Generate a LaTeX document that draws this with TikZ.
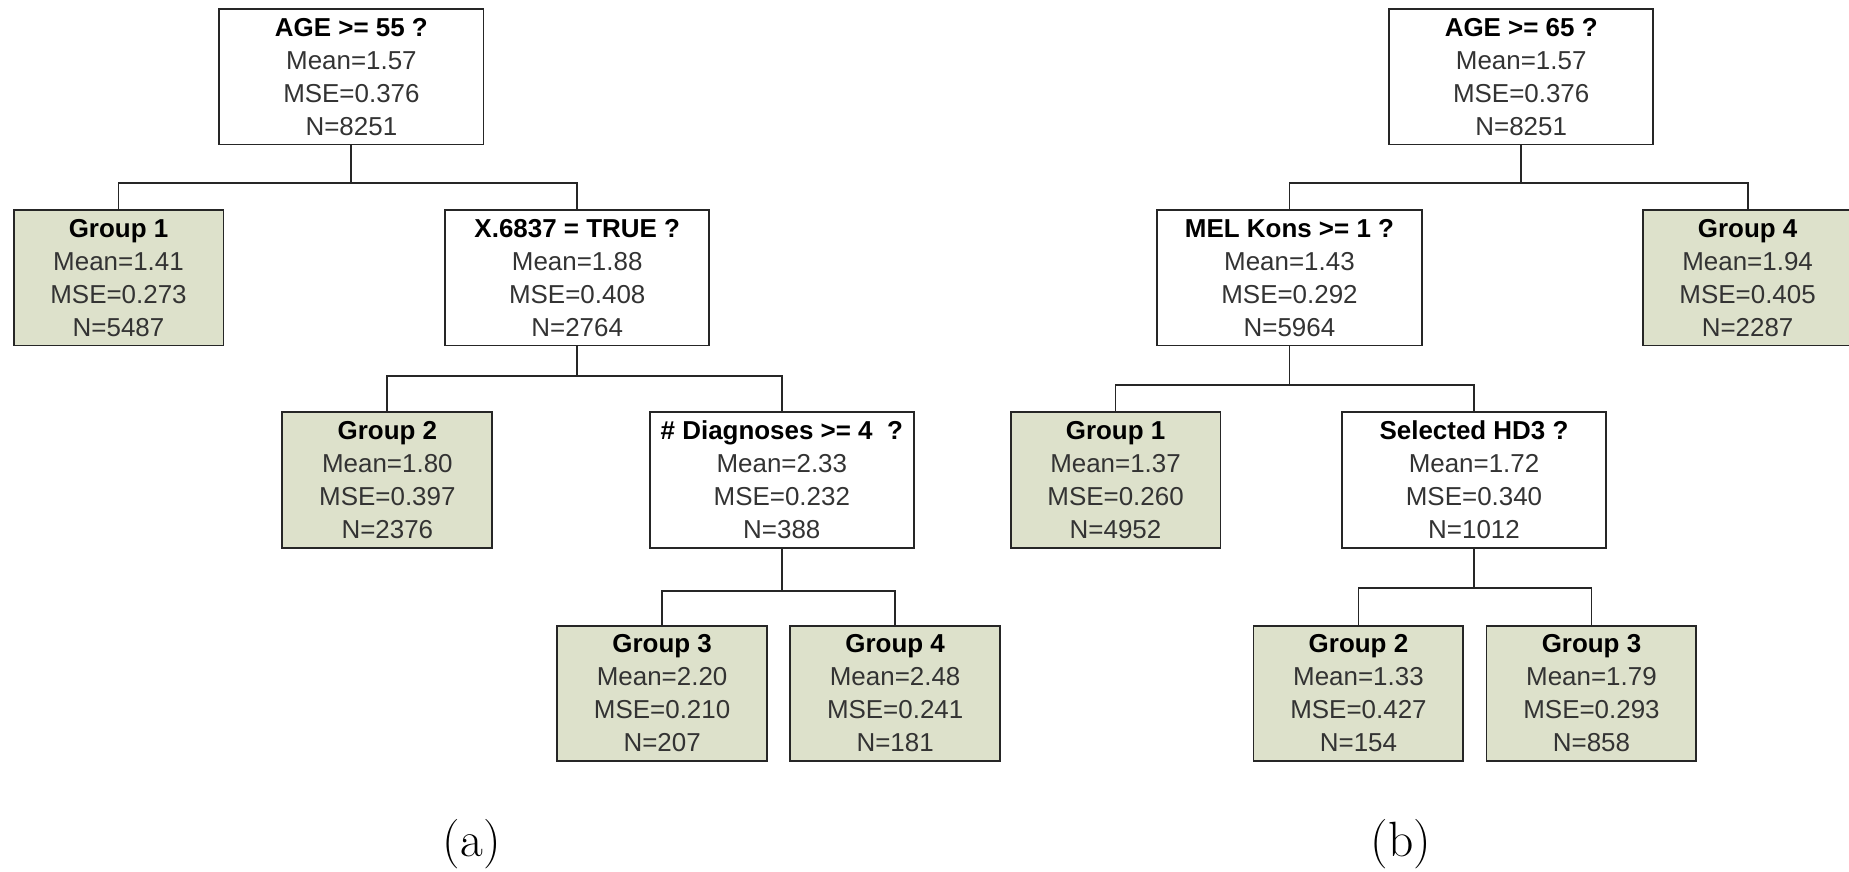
\documentclass[tikz,border=0pt]{standalone}
\usepackage{fontspec}
\usepackage{tikz}
\usetikzlibrary{positioning}
\newfontfamily\boxfont{Liberation Sans}
\definecolor{leafgreen}{RGB}{221,225,203}
\newcommand{\splitinfo}[4]{\textcolor{black}{\textbf{#1}}\\Mean=#2\\MSE=#3\\N=#4}

\begin{document}
\begin{tikzpicture}[x=0.5pt,y=0.5pt,line width=0.8pt,
  test/.style={draw=black!85,fill=white,align=center,inner sep=0pt,
    minimum width=112pt,minimum height=57.5pt,
    font=\boxfont\fontsize{11}{14}\selectfont,text=black!80},
  leaf/.style={test,fill=leafgreen,minimum width=89pt},
  branch/.style={to path={(\tikztostart.south) -- ++(0,-#1) -| (\tikztotarget.north)}}]
\useasboundingbox (0,0) rectangle (1568,739);
% tree (a)
\node [test](rootA) at (298,674) {\splitinfo{AGE >= 55 ?}{1.57}{0.376}{8251}};
\node [leaf](grpA1) at (100.5,503.5) {\splitinfo{Group 1}{1.41}{0.273}{5487}};
\node [test](xA) at (489.5,503.5) {\splitinfo{X.6837 = TRUE ?}{1.88}{0.408}{2764}};
\node [leaf](grpA2) at (328.5,332) {\splitinfo{Group 2}{1.80}{0.397}{2376}};
\node [test](diagA) at (663,332) {\splitinfo{\# Diagnoses >= 4\ \ ?}{2.33}{0.232}{388}};
\node [leaf](grpA3) at (561.5,151) {\splitinfo{Group 3}{2.20}{0.210}{207}};
\node [leaf,right=9pt of grpA3](grpA4) {\splitinfo{Group 4}{2.48}{0.241}{181}};
% tree (b)
\node [test](rootB) at (1290,674) {\splitinfo{AGE >= 65 ?}{1.57}{0.376}{8251}};
\node [test](melB) at (1093.5,503.5) {\splitinfo{MEL Kons >= 1 ?}{1.43}{0.292}{5964}};
\node [leaf](grpB4) at (1482,503.5) {\splitinfo{Group 4}{1.94}{0.405}{2287}};
\node [leaf](grpB1) at (946,332) {\splitinfo{Group 1}{1.37}{0.260}{4952}};
\node [test](selB) at (1250,332) {\splitinfo{Selected HD3 ?}{1.72}{0.340}{1012}};
\node [leaf](grpB2) at (1152,151) {\splitinfo{Group 2}{1.33}{0.427}{154}};
\node [leaf,right=9pt of grpB2](grpB3) {\splitinfo{Group 3}{1.79}{0.293}{858}};
\path[draw=black!85]
 (rootA) edge[branch=32] (grpA1)
 (rootA) edge[branch=32] (xA)
 (xA) edge[branch=25] (grpA2)
 (xA) edge[branch=25] (diagA)
 (diagA) edge[branch=36] (grpA3)
 (diagA) edge[branch=36] (grpA4)
 (rootB) edge[branch=32] (melB)
 (rootB) edge[branch=32] (grpB4)
 (melB) edge[branch=33] (grpB1)
 (melB) edge[branch=33] (selB)
 (selB) edge[branch=33] (grpB2)
 (selB) edge[branch=33] (grpB3);
% captions
\node [font=\fontsize{21}{24}\selectfont](capA) at (400,23) {(a)};
\node [font=\fontsize{21}{24}\selectfont](capB) at (1188,23) {(b)};
\end{tikzpicture}
\end{document}
